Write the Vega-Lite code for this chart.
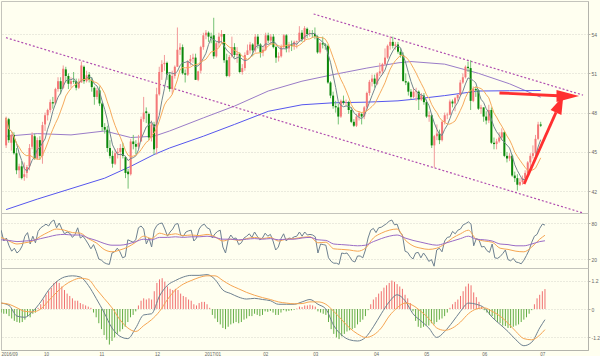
{
"$schema": "https://vega.github.io/schema/vega-lite/v6.json",
"background": "#fffff0",
"padding": 0,
"spacing": 0,
"bounds": "flush",
"config": {
  "view": {"stroke": "#c4c4bc", "strokeWidth": 1},
  "text": {"font": "Liberation Sans"},
  "axis": {"labelFont": "Liberation Sans", "labelFontSize": 5, "labelColor": "#666666", "labelOverlap": false, "domainColor": "#b4b4ac", "tickColor": "#b4b4ac", "gridColor": "#d6d6cc", "gridDash": [1, 2], "gridWidth": 1}
},
"datasets": {
"one": [{"n": 1}],
"px": [
{"k":1,"o":45.5,"h":47.7,"l":45.3,"c":47.6,"r":68,"m":-0.15},
{"k":2,"o":47.5,"h":47.6,"l":45.7,"c":45.9,"r":50,"m":-0.2},
{"k":3,"o":45.7,"h":46.4,"l":45.1,"c":46.3,"r":55,"m":-0.2},
{"k":4,"o":46.3,"h":46.5,"l":44.8,"c":44.9,"r":42,"m":-0.3},
{"k":5,"o":44.9,"h":45.3,"l":43.3,"c":43.6,"r":33,"m":-0.4},
{"k":6,"o":43.6,"h":44.1,"l":43.0,"c":43.9,"r":38,"m":-0.5},
{"k":7,"o":43.9,"h":44.3,"l":42.9,"c":43.0,"r":30,"m":-0.55},
{"k":8,"o":43.1,"h":44.2,"l":42.8,"c":43.3,"r":34,"m":-0.58},
{"k":9,"o":43.4,"h":44.0,"l":43.0,"c":43.85,"r":42,"m":-0.55},
{"k":10,"o":43.9,"h":45.6,"l":43.6,"c":45.3,"r":58,"m":-0.45},
{"k":11,"o":45.4,"h":46.5,"l":45.2,"c":46.3,"r":64,"m":-0.3},
{"k":12,"o":46.2,"h":46.4,"l":44.4,"c":44.5,"r":45,"m":-0.35},
{"k":13,"o":44.5,"h":46.1,"l":44.4,"c":45.9,"r":58,"m":-0.2},
{"k":14,"o":45.9,"h":46.2,"l":44.4,"c":44.7,"r":47,"m":-0.15},
{"k":15,"o":44.7,"h":47.3,"l":44.1,"c":47.05,"r":66,"m":0.05},
{"k":16,"o":47.1,"h":48.0,"l":46.6,"c":47.8,"r":72,"m":0.2},
{"k":17,"o":47.8,"h":48.3,"l":47.4,"c":48.2,"r":75,"m":0.4},
{"k":18,"o":48.2,"h":49.0,"l":48.0,"c":48.8,"r":78,"m":0.6},
{"k":19,"o":48.8,"h":49.2,"l":48.3,"c":48.7,"r":75,"m":0.75},
{"k":20,"o":48.7,"h":49.9,"l":48.6,"c":49.8,"r":82,"m":0.9},
{"k":21,"o":49.8,"h":50.7,"l":49.6,"c":50.4,"r":85,"m":1.1},
{"k":22,"o":50.4,"h":50.7,"l":49.4,"c":49.8,"r":72,"m":1.18},
{"k":23,"o":49.9,"h":51.6,"l":49.8,"c":51.35,"r":80,"m":1.1},
{"k":24,"o":51.3,"h":51.5,"l":50.3,"c":50.8,"r":70,"m":0.95},
{"k":25,"o":50.8,"h":51.0,"l":49.8,"c":50.2,"r":62,"m":0.8},
{"k":26,"o":50.2,"h":50.7,"l":49.9,"c":50.4,"r":65,"m":0.65},
{"k":27,"o":50.4,"h":51.1,"l":50.2,"c":50.35,"r":63,"m":0.55},
{"k":28,"o":50.4,"h":50.6,"l":49.7,"c":49.9,"r":56,"m":0.45},
{"k":29,"o":49.9,"h":50.6,"l":49.8,"c":50.3,"r":61,"m":0.35},
{"k":30,"o":50.3,"h":51.9,"l":50.3,"c":51.6,"r":72,"m":0.35},
{"k":31,"o":51.5,"h":51.6,"l":50.2,"c":50.4,"r":55,"m":0.25},
{"k":32,"o":50.4,"h":51.2,"l":50.3,"c":50.85,"r":58,"m":0.2},
{"k":33,"o":50.9,"h":51.1,"l":50.3,"c":50.5,"r":52,"m":0.15},
{"k":34,"o":50.5,"h":50.7,"l":49.6,"c":49.95,"r":45,"m":0.1},
{"k":35,"o":49.9,"h":50.0,"l":48.6,"c":49.2,"r":37,"m":0.05},
{"k":36,"o":49.2,"h":49.9,"l":49.0,"c":49.7,"r":44,"m":-0.15},
{"k":37,"o":49.7,"h":50.0,"l":48.5,"c":48.7,"r":33,"m":-0.35},
{"k":38,"o":48.7,"h":48.8,"l":46.6,"c":46.9,"r":20,"m":-0.6},
{"k":39,"o":46.9,"h":47.2,"l":46.4,"c":46.7,"r":18,"m":-0.85},
{"k":40,"o":46.7,"h":47.0,"l":45.0,"c":45.3,"r":14,"m":-1.1},
{"k":41,"o":45.3,"h":45.9,"l":44.5,"c":44.7,"r":12,"m":-1.3},
{"k":42,"o":44.7,"h":45.1,"l":43.8,"c":44.1,"r":11,"m":-1.5},
{"k":43,"o":44.1,"h":45.2,"l":44.0,"c":44.9,"r":30,"m":-1.35},
{"k":44,"o":44.9,"h":45.3,"l":44.5,"c":45.0,"r":32,"m":-1.2},
{"k":45,"o":45.0,"h":45.6,"l":43.6,"c":45.3,"r":38,"m":-1.05},
{"k":46,"o":45.3,"h":45.7,"l":44.5,"c":44.7,"r":32,"m":-0.95},
{"k":47,"o":44.6,"h":44.7,"l":43.0,"c":43.4,"r":22,"m":-0.85},
{"k":48,"o":43.5,"h":43.7,"l":42.2,"c":43.3,"r":24,"m":-0.75},
{"k":49,"o":43.3,"h":46.0,"l":43.2,"c":45.8,"r":52,"m":-0.55},
{"k":50,"o":45.8,"h":46.3,"l":45.2,"c":45.6,"r":50,"m":-0.35},
{"k":51,"o":45.6,"h":45.9,"l":44.8,"c":45.4,"r":48,"m":-0.25},
{"k":52,"o":45.4,"h":46.3,"l":45.2,"c":45.7,"r":52,"m":-0.1},
{"k":53,"o":45.8,"h":47.7,"l":45.8,"c":47.5,"r":72,"m":0.15},
{"k":54,"o":47.5,"h":49.2,"l":47.3,"c":48.0,"r":75,"m":0.35},
{"k":55,"o":48.1,"h":48.4,"l":47.2,"c":47.96,"r":70,"m":0.45},
{"k":56,"o":47.9,"h":48.0,"l":45.9,"c":46.1,"r":45,"m":0.4},
{"k":57,"o":46.1,"h":47.4,"l":45.8,"c":47.1,"r":55,"m":0.45},
{"k":58,"o":47.1,"h":47.3,"l":44.8,"c":45.2,"r":40,"m":0.4},
{"k":59,"o":45.3,"h":49.9,"l":44.8,"c":49.4,"r":68,"m":0.75},
{"k":60,"o":49.4,"h":51.5,"l":49.3,"c":51.1,"r":76,"m":1.1},
{"k":61,"o":51.1,"h":52.0,"l":50.5,"c":51.7,"r":79,"m":1.25},
{"k":62,"o":51.7,"h":52.4,"l":51.2,"c":51.8,"r":80,"m":1.3},
{"k":63,"o":51.8,"h":51.9,"l":50.5,"c":50.9,"r":70,"m":1.15},
{"k":64,"o":50.9,"h":51.1,"l":49.6,"c":49.8,"r":58,"m":0.95},
{"k":65,"o":49.8,"h":51.2,"l":49.4,"c":50.8,"r":65,"m":0.85},
{"k":66,"o":50.8,"h":51.6,"l":50.6,"c":51.5,"r":70,"m":0.8},
{"k":67,"o":51.5,"h":54.5,"l":51.5,"c":52.8,"r":78,"m":0.85},
{"k":68,"o":52.8,"h":53.3,"l":52.4,"c":52.98,"r":79,"m":0.8},
{"k":69,"o":53.0,"h":53.2,"l":50.9,"c":51.0,"r":60,"m":0.65},
{"k":70,"o":51.0,"h":51.3,"l":50.3,"c":50.9,"r":58,"m":0.55},
{"k":71,"o":50.9,"h":52.0,"l":50.8,"c":51.9,"r":65,"m":0.5},
{"k":72,"o":51.9,"h":52.4,"l":51.6,"c":52.1,"r":67,"m":0.4},
{"k":73,"o":52.1,"h":52.5,"l":51.8,"c":52.2,"r":68,"m":0.35},
{"k":74,"o":52.2,"h":52.5,"l":50.5,"c":50.5,"r":50,"m":0.2},
{"k":75,"o":50.5,"h":51.2,"l":50.4,"c":51.15,"r":55,"m":0.15},
{"k":76,"o":51.2,"h":53.1,"l":51.0,"c":53.0,"r":70,"m":0.25},
{"k":77,"o":53.0,"h":54.1,"l":52.8,"c":53.9,"r":76,"m":0.3},
{"k":78,"o":53.9,"h":54.3,"l":53.6,"c":54.1,"r":78,"m":0.3},
{"k":79,"o":54.1,"h":54.2,"l":53.4,"c":53.8,"r":72,"m":0.2},
{"k":80,"o":53.8,"h":54.1,"l":53.3,"c":53.7,"r":70,"m":0.05},
{"k":81,"o":53.9,"h":55.24,"l":52.1,"c":52.3,"r":55,"m":-0.25},
{"k":82,"o":52.3,"h":53.4,"l":52.2,"c":53.3,"r":62,"m":-0.4},
{"k":83,"o":53.3,"h":54.1,"l":53.0,"c":53.8,"r":66,"m":-0.55},
{"k":84,"o":53.8,"h":54.3,"l":53.3,"c":54.0,"r":68,"m":-0.65},
{"k":85,"o":54.0,"h":54.0,"l":51.8,"c":52.0,"r":40,"m":-0.8},
{"k":86,"o":52.0,"h":52.5,"l":50.7,"c":50.8,"r":30,"m":-0.85},
{"k":87,"o":50.8,"h":52.4,"l":50.7,"c":52.25,"r":52,"m":-0.75},
{"k":88,"o":52.3,"h":53.8,"l":52.2,"c":53.0,"r":60,"m":-0.65},
{"k":89,"o":53.0,"h":53.3,"l":52.2,"c":52.4,"r":54,"m":-0.6},
{"k":90,"o":52.4,"h":53.0,"l":51.8,"c":52.5,"r":55,"m":-0.55},
{"k":91,"o":52.5,"h":52.6,"l":51.0,"c":51.1,"r":44,"m":-0.6},
{"k":92,"o":51.1,"h":51.7,"l":50.9,"c":51.4,"r":47,"m":-0.55},
{"k":93,"o":51.4,"h":52.6,"l":51.2,"c":52.4,"r":55,"m":-0.45},
{"k":94,"o":52.4,"h":53.2,"l":52.4,"c":52.75,"r":58,"m":-0.4},
{"k":95,"o":52.75,"h":53.4,"l":52.5,"c":53.2,"r":62,"m":-0.3},
{"k":96,"o":53.2,"h":53.3,"l":52.3,"c":52.75,"r":56,"m":-0.3},
{"k":97,"o":52.75,"h":54.0,"l":52.6,"c":53.8,"r":65,"m":-0.2},
{"k":98,"o":53.8,"h":54.0,"l":52.9,"c":53.2,"r":58,"m":-0.25},
{"k":99,"o":53.2,"h":53.3,"l":52.2,"c":52.6,"r":52,"m":-0.3},
{"k":100,"o":52.6,"h":53.1,"l":52.3,"c":52.8,"r":55,"m":-0.25},
{"k":101,"o":52.8,"h":54.1,"l":52.7,"c":53.9,"r":63,"m":-0.1},
{"k":102,"o":53.9,"h":54.1,"l":53.3,"c":53.5,"r":58,"m":-0.12},
{"k":103,"o":53.5,"h":54.0,"l":53.2,"c":53.8,"r":61,"m":-0.08},
{"k":104,"o":53.8,"h":54.0,"l":52.9,"c":53.0,"r":50,"m":-0.15},
{"k":105,"o":53.0,"h":53.1,"l":51.8,"c":52.2,"r":35,"m":-0.25},
{"k":106,"o":52.2,"h":52.6,"l":51.9,"c":52.3,"r":40,"m":-0.25},
{"k":107,"o":52.3,"h":53.2,"l":52.2,"c":53.0,"r":54,"m":-0.15},
{"k":108,"o":53.0,"h":54.0,"l":52.9,"c":53.9,"r":62,"m":-0.05},
{"k":109,"o":53.9,"h":54.0,"l":52.6,"c":52.9,"r":50,"m":-0.1},
{"k":110,"o":52.9,"h":53.4,"l":52.6,"c":53.2,"r":55,"m":-0.08},
{"k":111,"o":53.2,"h":53.5,"l":52.7,"c":53.1,"r":54,"m":-0.06},
{"k":112,"o":53.1,"h":53.5,"l":52.8,"c":53.4,"r":57,"m":-0.03},
{"k":113,"o":53.4,"h":53.5,"l":52.9,"c":53.45,"r":58,"m":0.02},
{"k":114,"o":53.5,"h":54.6,"l":53.4,"c":54.1,"r":65,"m":0.1},
{"k":115,"o":54.1,"h":54.3,"l":53.4,"c":53.6,"r":58,"m":0.08},
{"k":116,"o":53.6,"h":54.6,"l":53.4,"c":54.45,"r":65,"m":0.15},
{"k":117,"o":54.4,"h":54.5,"l":53.7,"c":54.0,"r":60,"m":0.15},
{"k":118,"o":54.0,"h":54.3,"l":53.8,"c":54.05,"r":61,"m":0.18},
{"k":119,"o":54.05,"h":54.3,"l":53.7,"c":54.0,"r":60,"m":0.15},
{"k":120,"o":54.0,"h":54.5,"l":53.6,"c":53.8,"r":57,"m":0.1},
{"k":121,"o":53.8,"h":53.9,"l":52.5,"c":52.6,"r":30,"m":-0.1},
{"k":122,"o":52.6,"h":53.4,"l":52.5,"c":53.3,"r":45,"m":-0.15},
{"k":123,"o":53.3,"h":53.8,"l":52.9,"c":53.2,"r":44,"m":-0.2},
{"k":124,"o":53.2,"h":53.3,"l":52.8,"c":53.1,"r":43,"m":-0.25},
{"k":125,"o":53.1,"h":53.2,"l":50.2,"c":50.3,"r":22,"m":-0.55},
{"k":126,"o":50.3,"h":50.4,"l":49.1,"c":49.3,"r":16,"m":-0.85},
{"k":127,"o":49.3,"h":49.6,"l":48.3,"c":48.5,"r":13,"m":-1.05},
{"k":128,"o":48.5,"h":48.9,"l":48.0,"c":48.4,"r":13,"m":-1.2},
{"k":129,"o":48.4,"h":48.7,"l":47.1,"c":47.7,"r":11,"m":-1.27},
{"k":130,"o":47.7,"h":49.0,"l":47.6,"c":48.9,"r":30,"m":-1.15},
{"k":131,"o":48.9,"h":49.3,"l":48.6,"c":48.75,"r":29,"m":-1.05},
{"k":132,"o":48.75,"h":49.0,"l":48.5,"c":48.8,"r":30,"m":-0.95},
{"k":133,"o":48.8,"h":48.9,"l":47.9,"c":48.2,"r":24,"m":-0.9},
{"k":134,"o":48.2,"h":48.4,"l":47.2,"c":47.3,"r":17,"m":-0.85},
{"k":135,"o":47.3,"h":47.5,"l":46.9,"c":47.0,"r":15,"m":-0.8},
{"k":136,"o":47.0,"h":47.9,"l":46.9,"c":47.7,"r":25,"m":-0.65},
{"k":137,"o":47.7,"h":48.1,"l":47.4,"c":47.97,"r":25,"m":-0.55},
{"k":138,"o":47.9,"h":48.0,"l":47.1,"c":47.7,"r":22,"m":-0.45},
{"k":139,"o":47.7,"h":48.5,"l":47.5,"c":48.4,"r":35,"m":-0.3},
{"k":140,"o":48.4,"h":49.6,"l":48.2,"c":49.5,"r":55,"m":-0.05},
{"k":141,"o":49.5,"h":50.5,"l":49.3,"c":50.35,"r":68,"m":0.2},
{"k":142,"o":50.35,"h":50.9,"l":50.0,"c":50.6,"r":71,"m":0.4},
{"k":143,"o":50.6,"h":50.9,"l":49.9,"c":50.2,"r":64,"m":0.5},
{"k":144,"o":50.2,"h":51.1,"l":50.1,"c":51.0,"r":72,"m":0.65},
{"k":145,"o":51.0,"h":51.8,"l":50.8,"c":51.15,"r":73,"m":0.75},
{"k":146,"o":51.15,"h":51.8,"l":50.9,"c":51.7,"r":76,"m":0.9},
{"k":147,"o":51.7,"h":52.9,"l":51.6,"c":52.2,"r":79,"m":1.0},
{"k":148,"o":52.2,"h":53.2,"l":52.1,"c":53.1,"r":83,"m":1.1},
{"k":149,"o":53.1,"h":53.8,"l":52.8,"c":53.4,"r":85,"m":1.2},
{"k":150,"o":53.4,"h":53.8,"l":52.9,"c":53.1,"r":77,"m":1.15},
{"k":151,"o":53.1,"h":53.4,"l":52.8,"c":53.2,"r":78,"m":1.05},
{"k":152,"o":53.2,"h":53.4,"l":52.5,"c":52.65,"r":65,"m":0.95},
{"k":153,"o":52.65,"h":52.9,"l":52.2,"c":52.4,"r":60,"m":0.85},
{"k":154,"o":52.4,"h":52.6,"l":50.4,"c":50.4,"r":33,"m":0.6},
{"k":155,"o":50.4,"h":51.0,"l":50.1,"c":50.3,"r":31,"m":0.45},
{"k":156,"o":50.3,"h":50.4,"l":49.3,"c":49.6,"r":24,"m":0.25},
{"k":157,"o":49.6,"h":49.8,"l":49.0,"c":49.2,"r":20,"m":-0.1},
{"k":158,"o":49.2,"h":49.9,"l":49.1,"c":49.6,"r":30,"m":-0.5},
{"k":159,"o":49.6,"h":49.9,"l":48.9,"c":49.65,"r":31,"m":-0.75},
{"k":160,"o":49.6,"h":49.7,"l":48.2,"c":49.0,"r":22,"m":-0.8},
{"k":161,"o":49.0,"h":49.5,"l":48.9,"c":49.3,"r":30,"m":-0.75},
{"k":162,"o":49.3,"h":49.5,"l":48.6,"c":48.8,"r":24,"m":-0.7},
{"k":163,"o":48.8,"h":49.0,"l":47.6,"c":47.7,"r":16,"m":-0.7},
{"k":164,"o":47.7,"h":48.1,"l":47.3,"c":47.8,"r":19,"m":-0.6},
{"k":165,"o":47.8,"h":47.9,"l":45.3,"c":45.5,"r":8,"m":-0.65},
{"k":166,"o":45.5,"h":46.3,"l":43.8,"c":46.2,"r":35,"m":-0.55},
{"k":167,"o":46.2,"h":47.1,"l":45.9,"c":46.4,"r":38,"m":-0.45},
{"k":168,"o":46.4,"h":46.7,"l":45.6,"c":45.9,"r":32,"m":-0.4},
{"k":169,"o":45.9,"h":47.4,"l":45.8,"c":47.3,"r":50,"m":-0.3},
{"k":170,"o":47.3,"h":48.0,"l":47.1,"c":47.8,"r":56,"m":-0.15},
{"k":171,"o":47.8,"h":48.0,"l":47.5,"c":47.85,"r":57,"m":0.05},
{"k":172,"o":47.85,"h":49.0,"l":47.8,"c":48.85,"r":66,"m":0.2},
{"k":173,"o":48.85,"h":49.0,"l":48.4,"c":48.7,"r":62,"m":0.3},
{"k":174,"o":48.7,"h":49.2,"l":48.1,"c":49.1,"r":68,"m":0.4},
{"k":175,"o":49.1,"h":49.4,"l":48.9,"c":49.35,"r":70,"m":0.55},
{"k":176,"o":49.35,"h":50.5,"l":49.3,"c":50.3,"r":77,"m":0.75},
{"k":177,"o":50.3,"h":51.0,"l":50.2,"c":50.7,"r":79,"m":0.95},
{"k":178,"o":50.7,"h":51.6,"l":50.6,"c":51.5,"r":82,"m":1.07},
{"k":179,"o":51.5,"h":51.9,"l":51.1,"c":51.4,"r":78,"m":1.0},
{"k":180,"o":51.4,"h":52.0,"l":48.2,"c":48.9,"r":42,"m":0.7},
{"k":181,"o":48.9,"h":50.0,"l":48.8,"c":49.8,"r":54,"m":0.5},
{"k":182,"o":49.8,"h":50.0,"l":49.2,"c":49.7,"r":52,"m":0.3},
{"k":183,"o":49.7,"h":49.8,"l":48.2,"c":48.3,"r":40,"m":0.1},
{"k":184,"o":48.3,"h":48.6,"l":47.9,"c":48.4,"r":41,"m":-0.05},
{"k":185,"o":48.4,"h":48.4,"l":47.3,"c":47.7,"r":34,"m":-0.15},
{"k":186,"o":47.7,"h":48.1,"l":47.1,"c":47.4,"r":31,"m":-0.25},
{"k":187,"o":47.4,"h":48.6,"l":47.2,"c":48.2,"r":45,"m":-0.3},
{"k":188,"o":48.2,"h":48.4,"l":45.6,"c":45.7,"r":22,"m":-0.45},
{"k":189,"o":45.7,"h":46.1,"l":45.2,"c":45.6,"r":21,"m":-0.55},
{"k":190,"o":45.6,"h":46.0,"l":45.2,"c":45.8,"r":24,"m":-0.6},
{"k":191,"o":45.8,"h":46.5,"l":45.7,"c":46.1,"r":29,"m":-0.7},
{"k":192,"o":46.1,"h":46.8,"l":45.9,"c":46.5,"r":35,"m":-0.72},
{"k":193,"o":46.5,"h":46.6,"l":44.6,"c":44.7,"r":19,"m":-0.8},
{"k":194,"o":44.7,"h":45.0,"l":44.2,"c":44.5,"r":17,"m":-0.8},
{"k":195,"o":44.5,"h":44.9,"l":44.3,"c":44.7,"r":21,"m":-0.75},
{"k":196,"o":44.7,"h":44.8,"l":43.1,"c":43.2,"r":15,"m":-0.7},
{"k":197,"o":43.2,"h":43.5,"l":42.7,"c":43.0,"r":14,"m":-0.65},
{"k":198,"o":43.0,"h":43.3,"l":42.05,"c":42.5,"r":12,"m":-0.55},
{"k":199,"o":42.5,"h":43.0,"l":42.4,"c":42.7,"r":18,"m":-0.45},
{"k":200,"o":42.7,"h":43.2,"l":42.5,"c":43.0,"r":26,"m":-0.35},
{"k":201,"o":43.0,"h":43.6,"l":42.9,"c":43.4,"r":35,"m":-0.2},
{"k":202,"o":43.4,"h":44.3,"l":43.3,"c":44.2,"r":48,"m":-0.05},
{"k":203,"o":44.2,"h":44.9,"l":43.8,"c":44.7,"r":58,"m":0.2},
{"k":204,"o":44.7,"h":45.5,"l":44.5,"c":44.9,"r":61,"m":0.45},
{"k":205,"o":44.9,"h":46.3,"l":44.8,"c":46.0,"r":71,"m":0.6},
{"k":206,"o":46.0,"h":47.3,"l":45.9,"c":47.1,"r":78,"m":0.75},
{"k":207,"o":47.1,"h":47.3,"l":46.9,"c":47.0,"r":76.6,"m":0.84}
],
"sm": [
{"k":1,"r2":56,"r3":52,"d":0.25,"e":0.25},
{"k":4,"r2":50,"r3":51,"d":0.15,"e":0.2},
{"k":7,"r2":45,"r3":49,"d":-0.3,"e":0.05},
{"k":10,"r2":47,"r3":50,"d":-0.35,"e":-0.1},
{"k":13,"r2":50,"r3":51,"d":-0.1,"e":-0.12},
{"k":16,"r2":58,"r3":54,"d":0.3,"e":0.0},
{"k":19,"r2":65,"r3":57,"d":0.8,"e":0.35},
{"k":22,"r2":70,"r3":60,"d":1.15,"e":0.7},
{"k":25,"r2":68,"r3":61,"d":1.35,"e":1.0},
{"k":28,"r2":64,"r3":60,"d":1.4,"e":1.2},
{"k":31,"r2":63,"r3":60,"d":1.35,"e":1.3},
{"k":34,"r2":54,"r3":55,"d":1.0,"e":1.25},
{"k":37,"r2":47,"r3":51,"d":0.45,"e":0.85},
{"k":40,"r2":36,"r3":46,"d":-0.15,"e":0.45},
{"k":43,"r2":32,"r3":43,"d":-0.8,"e":0.05},
{"k":46,"r2":35,"r3":43,"d":-1.15,"e":-0.45},
{"k":49,"r2":40,"r3":45,"d":-1.25,"e":-0.8},
{"k":52,"r2":48,"r3":49,"d":-0.8,"e":-0.95},
{"k":55,"r2":58,"r3":53,"d":-0.25,"e":-0.7},
{"k":58,"r2":54,"r3":52,"d":-0.2,"e":-0.45},
{"k":61,"r2":63,"r3":56,"d":0.55,"e":-0.1},
{"k":64,"r2":60,"r3":56,"d":1.0,"e":0.4},
{"k":67,"r2":62,"r3":57,"d":1.2,"e":0.8},
{"k":70,"r2":59,"r3":56,"d":1.35,"e":1.05},
{"k":73,"r2":60,"r3":57,"d":1.42,"e":1.2},
{"k":76,"r2":59,"r3":57,"d":1.42,"e":1.33},
{"k":79,"r2":61,"r3":58,"d":1.45,"e":1.4},
{"k":82,"r2":57,"r3":56,"d":1.25,"e":1.4},
{"k":85,"r2":50,"r3":53,"d":0.8,"e":1.2},
{"k":88,"r2":53,"r3":53,"d":0.65,"e":1.0},
{"k":91,"r2":51,"r3":52,"d":0.5,"e":0.85},
{"k":94,"r2":54,"r3":53,"d":0.42,"e":0.7},
{"k":97,"r2":56,"r3":54,"d":0.45,"e":0.58},
{"k":100,"r2":54,"r3":53,"d":0.4,"e":0.48},
{"k":103,"r2":56,"r3":54,"d":0.35,"e":0.4},
{"k":106,"r2":50,"r3":52,"d":0.2,"e":0.3},
{"k":109,"r2":53,"r3":53,"d":0.2,"e":0.25},
{"k":112,"r2":54,"r3":53,"d":0.2,"e":0.22},
{"k":115,"r2":56,"r3":55,"d":0.3,"e":0.23},
{"k":118,"r2":57,"r3":56,"d":0.4,"e":0.3},
{"k":121,"r2":47,"r3":52,"d":0.2,"e":0.3},
{"k":124,"r2":48,"r3":51,"d":0.0,"e":0.2},
{"k":127,"r2":37,"r3":45,"d":-0.7,"e":-0.1},
{"k":130,"r2":36,"r3":44,"d":-1.1,"e":-0.45},
{"k":133,"r2":35,"r3":43,"d":-1.3,"e":-0.8},
{"k":136,"r2":33,"r3":42,"d":-1.35,"e":-1.05},
{"k":139,"r2":38,"r3":43,"d":-1.2,"e":-1.2},
{"k":142,"r2":55,"r3":49,"d":-0.75,"e":-1.1},
{"k":145,"r2":63,"r3":54,"d":-0.2,"e":-0.8},
{"k":148,"r2":68,"r3":58,"d":0.3,"e":-0.3},
{"k":151,"r2":70,"r3":60,"d":0.6,"e":0.05},
{"k":154,"r2":52,"r3":55,"d":0.35,"e":0.25},
{"k":157,"r2":42,"r3":51,"d":-0.2,"e":0.15},
{"k":160,"r2":38,"r3":48,"d":-0.5,"e":-0.1},
{"k":163,"r2":36,"r3":45,"d":-0.8,"e":-0.4},
{"k":166,"r2":38,"r3":43,"d":-1.2,"e":-0.8},
{"k":169,"r2":45,"r3":46,"d":-0.95,"e":-0.9},
{"k":172,"r2":55,"r3":50,"d":-0.55,"e":-0.8},
{"k":175,"r2":62,"r3":54,"d":-0.1,"e":-0.55},
{"k":178,"r2":68,"r3":58,"d":0.25,"e":-0.2},
{"k":181,"r2":53,"r3":53,"d":0.2,"e":0.0},
{"k":184,"r2":50,"r3":52,"d":0.05,"e":0.05},
{"k":187,"r2":48,"r3":50,"d":-0.35,"e":-0.1},
{"k":190,"r2":38,"r3":45,"d":-0.65,"e":-0.3},
{"k":193,"r2":36,"r3":44,"d":-0.95,"e":-0.6},
{"k":196,"r2":33,"r3":42,"d":-1.3,"e":-0.95},
{"k":199,"r2":32,"r3":42,"d":-1.55,"e":-1.25},
{"k":202,"r2":40,"r3":45,"d":-1.4,"e":-1.3},
{"k":205,"r2":53,"r3":49,"d":-0.8,"e":-1.1},
{"k":207,"r2":59.6,"r3":50.4,"d":-0.45,"e":-0.87}
],
"ma": [
{"k":1,"a":46.2,"b":40.6},
{"k":13,"a":46.4,"b":41.4},
{"k":26,"a":46.3,"b":42.2},
{"k":39,"a":46.6,"b":43.0},
{"k":49,"a":46.1,"b":43.9},
{"k":58,"a":46.2,"b":44.8},
{"k":64,"a":46.6,"b":45.3},
{"k":77,"a":47.6,"b":46.2},
{"k":89,"a":48.5,"b":47.1},
{"k":102,"a":49.65,"b":48.1},
{"k":115,"a":50.4,"b":48.6},
{"k":127,"a":50.9,"b":48.75},
{"k":140,"a":51.4,"b":48.8},
{"k":152,"a":51.8,"b":48.9},
{"k":157,"a":51.9,"b":49.0},
{"k":170,"a":51.7,"b":49.3},
{"k":183,"a":51.0,"b":49.65},
{"k":195,"a":50.2,"b":49.67},
{"k":207,"a":49.18,"b":49.69}
],
"tl": [
{"g":"a","k":0.95,"p":53.72},
{"g":"a","k":223.3,"p":40.34},
{"g":"b","k":119.5,"p":55.53},
{"g":"b","k":223.3,"p":49.34}
],
"arr": [
{"g":"h","k":191.1,"p":49.5},
{"g":"h","k":213.8,"p":49.29},
{"g":"d","k":200.6,"p":42.55},
{"g":"d","k":212.9,"p":48.02}
],
"ah": [
{"g":"h","k":213.1,"p":48.82,"p2":49.73},
{"g":"h","k":221.8,"p":49.27,"p2":49.27},
{"g":"d","k":210.8,"p":48.21,"p2":48.21},
{"g":"d","k":214.97,"p":47.82,"p2":49.11},
{"g":"d","k":215.72,"p":49.27,"p2":49.27}
]
},
"vconcat": [
{
"width": 587, "height": 212,
"encoding": {"x": {"field": "k", "type": "quantitative", "scale": {"domain": [0.95, 223.3], "nice": false, "zero": false}, "axis": null}},
"layer": [
{"data": {"name": "ma"}, "mark": {"type": "line", "color": "#9a7cc8", "strokeWidth": 1, "clip": true},
 "encoding": {"y": {"field": "a", "type": "quantitative", "title": null, "scale": {"domain": [40.34, 56.52], "nice": false, "zero": false},
   "axis": {"orient": "right", "values": [42, 45, 48, 51, 54], "grid": true, "tickSize": 2, "labelPadding": 1, "labelOverlap": false, "minExtent": 13, "maxExtent": 13}}}},
{"data": {"name": "ma"}, "mark": {"type": "line", "color": "#5656ee", "strokeWidth": 1, "clip": true},
 "encoding": {"y": {"field": "b", "type": "quantitative", "title": null}}},
{"data": {"name": "tl"}, "mark": {"type": "line", "color": "#b04cb0", "strokeWidth": 1.2, "strokeDash": [2, 2], "clip": true},
 "encoding": {"y": {"field": "p", "type": "quantitative", "title": null}, "detail": {"field": "g"}}},
{"data": {"name": "px"}, "mark": {"type": "rule", "strokeWidth": 1, "clip": true},
 "encoding": {"y": {"field": "l", "type": "quantitative", "title": null}, "y2": {"field": "h"},
   "color": {"condition": {"test": "datum.c >= datum.o", "value": "#f29a9a"}, "value": "#74c274"}}},
{"data": {"name": "px"}, "mark": {"type": "bar", "size": 2, "clip": true},
 "encoding": {"y": {"field": "o", "type": "quantitative", "title": null}, "y2": {"field": "c"},
   "color": {"condition": {"test": "datum.c >= datum.o", "value": "#f47878"}, "value": "#0b870b"}}},
{"data": {"name": "px"}, "transform": [{"window": [{"op": "mean", "field": "c", "as": "v5"}], "frame": [-4, 0], "sort": [{"field": "k"}]}],
 "mark": {"type": "line", "color": "#74868f", "strokeWidth": 1, "clip": true},
 "encoding": {"y": {"field": "v5", "type": "quantitative", "title": null}}},
{"data": {"name": "px"}, "transform": [{"window": [{"op": "mean", "field": "c", "as": "v10"}], "frame": [-9, 0], "sort": [{"field": "k"}]}],
 "mark": {"type": "line", "color": "#f6aa5c", "strokeWidth": 1, "clip": true},
 "encoding": {"y": {"field": "v10", "type": "quantitative", "title": null}}},
{"data": {"name": "arr"}, "mark": {"type": "line", "color": "#ff3030", "strokeWidth": 2.8, "clip": true},
 "encoding": {"y": {"field": "p", "type": "quantitative", "title": null}, "detail": {"field": "g"}}},
{"data": {"name": "ah"}, "mark": {"type": "area", "color": "#ff3030", "opacity": 1, "clip": true, "orient": "vertical"},
 "encoding": {"y": {"field": "p", "type": "quantitative", "title": null}, "y2": {"field": "p2"}, "detail": {"field": "g"}}},
{"data": {"name": "one"}, "mark": {"type": "text", "text": "美原油连续(CONC)(日线)", "font": "Noto Sans CJK SC", "fontSize": 5, "align": "left", "baseline": "middle", "color": "#5a5a70"},
 "encoding": {"x": {"datum": 1.0}, "y": {"datum": 56.21}}},
{"data": {"name": "one"}, "mark": {"type": "text", "text": "×", "fontSize": 5, "align": "left", "baseline": "middle", "color": "#555555"},
 "encoding": {"x": {"datum": 1.0}, "y": {"datum": 55.72}}},
{"data": {"name": "one"}, "mark": {"type": "text", "text": "MA5:46.81", "fontSize": 5, "align": "left", "baseline": "middle", "color": "#3e4c5a"},
 "encoding": {"x": {"datum": 2.84}, "y": {"datum": 55.72}}},
{"data": {"name": "one"}, "mark": {"type": "text", "text": "MA10:44.57", "fontSize": 5, "align": "left", "baseline": "middle", "color": "#f08c28"},
 "encoding": {"x": {"datum": 11.9}, "y": {"datum": 55.72}}},
{"data": {"name": "one"}, "mark": {"type": "text", "text": "MA100:49.18", "fontSize": 5, "align": "left", "baseline": "middle", "color": "#8050c8"},
 "encoding": {"x": {"datum": 22.2}, "y": {"datum": 55.72}}},
{"data": {"name": "one"}, "mark": {"type": "text", "text": "MA200:49.69", "fontSize": 5, "align": "left", "baseline": "middle", "color": "#3636dc"},
 "encoding": {"x": {"datum": 32.8}, "y": {"datum": 55.72}}},
{"data": {"name": "one"}, "mark": {"type": "text", "text": "美原油日线走势图", "font": "Noto Sans CJK SC", "fontSize": 10.5, "align": "center", "baseline": "middle", "color": "#ff4d4d"},
 "encoding": {"x": {"datum": 33.7}, "y": {"datum": 54.76}}},
{"data": {"name": "one"}, "mark": {"type": "text", "text": "阻力", "font": "Noto Sans CJK SC", "fontSize": 11.5, "align": "center", "baseline": "middle", "color": "#ff5555"},
 "encoding": {"x": {"datum": 217.4}, "y": {"datum": 50.49}}},
{"data": {"name": "one"}, "mark": {"type": "text", "text": "55.24", "fontSize": 5.5, "align": "right", "baseline": "middle", "color": "#444444"},
 "encoding": {"x": {"datum": 79.7}, "y": {"datum": 55.3}}},
{"data": {"name": "one"}, "mark": {"type": "text", "text": "42.05", "fontSize": 5.5, "align": "right", "baseline": "middle", "color": "#444444"},
 "encoding": {"x": {"datum": 196}, "y": {"datum": 41.95}}},
{"data": {"name": "one"}, "mark": {"type": "text", "text": "新品基础", "font": "Noto Sans CJK SC", "fontSize": 4.5, "align": "center", "baseline": "middle", "color": "#4f7496"},
 "encoding": {"x": {"datum": 211.7}, "y": {"datum": 56.21}}},
{"data": {"name": "one"}, "mark": {"type": "text", "text": "切换", "font": "Noto Sans CJK SC", "fontSize": 4.5, "align": "center", "baseline": "middle", "color": "#4f7496"},
 "encoding": {"x": {"datum": 219.5}, "y": {"datum": 56.21}}}
]
},
{
"width": 587, "height": 55,
"encoding": {"x": {"field": "k", "type": "quantitative", "scale": {"domain": [0.95, 223.3], "nice": false, "zero": false}, "axis": null}},
"layer": [
{"data": {"name": "px"}, "mark": {"type": "line", "color": "#6e8190", "strokeWidth": 1, "clip": true},
 "encoding": {"y": {"field": "r", "type": "quantitative", "title": null, "scale": {"domain": [5, 96.67], "nice": false, "zero": false},
   "axis": {"orient": "right", "values": [20, 50, 80], "grid": true, "tickSize": 2, "labelPadding": 1, "labelOverlap": false, "labelSeparation": 0, "labelBound": false, "minExtent": 13, "maxExtent": 13}}}},
{"data": {"name": "sm"}, "mark": {"type": "line", "color": "#f6a552", "strokeWidth": 1, "interpolate": "monotone", "clip": true},
 "encoding": {"y": {"field": "r2", "type": "quantitative", "title": null}}},
{"data": {"name": "sm"}, "mark": {"type": "line", "color": "#9a6cc6", "strokeWidth": 1, "interpolate": "monotone", "clip": true},
 "encoding": {"y": {"field": "r3", "type": "quantitative", "title": null}}},
{"data": {"name": "one"}, "mark": {"type": "text", "text": "RSI(6,12,24)", "fontSize": 5, "align": "left", "baseline": "middle", "color": "#666666"},
 "encoding": {"x": {"datum": 1.0}, "y": {"datum": 91.7}}},
{"data": {"name": "one"}, "mark": {"type": "text", "text": "RSI1:76.61", "fontSize": 5, "align": "left", "baseline": "middle", "color": "#4e6070"},
 "encoding": {"x": {"datum": 11.2}, "y": {"datum": 91.7}}},
{"data": {"name": "one"}, "mark": {"type": "text", "text": "RSI2:59.64", "fontSize": 5, "align": "left", "baseline": "middle", "color": "#f09a3c"},
 "encoding": {"x": {"datum": 21.0}, "y": {"datum": 91.7}}},
{"data": {"name": "one"}, "mark": {"type": "text", "text": "RSI3:50.43", "fontSize": 5, "align": "left", "baseline": "middle", "color": "#8c50c0"},
 "encoding": {"x": {"datum": 29.7}, "y": {"datum": 91.7}}}
]
},
{
"width": 587, "height": 82,
"encoding": {"x": {"field": "k", "type": "quantitative", "scale": {"domain": [0.95, 223.3], "nice": false, "zero": false},
  "axis": {"values": [0.95, 18, 39, 60, 81, 101, 120, 143, 162, 184, 206],
    "labelExpr": "datum.value < 5 ? '2016/09' : datum.value == 18 ? '10' : datum.value == 39 ? '11' : datum.value == 60 ? '12' : datum.value == 81 ? '2017/01' : datum.value == 101 ? '02' : datum.value == 120 ? '03' : datum.value == 143 ? '04' : datum.value == 162 ? '05' : datum.value == 184 ? '06' : '07'",
    "labelFlush": true, "labelOverlap": false, "grid": false, "ticks": false, "labelFontSize": 4.5, "labelPadding": 1.5, "minExtent": 7, "maxExtent": 7, "title": null}}},
"layer": [
{"data": {"name": "px"}, "mark": {"type": "rule", "strokeWidth": 1, "clip": true},
 "encoding": {"y": {"field": "m", "type": "quantitative", "title": null, "scale": {"domain": [-1.73, 1.73], "nice": false, "zero": false},
   "axis": {"orient": "right", "values": [-1.2, 0, 1.2], "labelExpr": "datum.value == 0 ? '0' : (datum.value > 0 ? '1.2' : '-1.2')", "grid": true, "tickSize": 2, "labelPadding": 1, "labelOverlap": false, "minExtent": 13, "maxExtent": 13}},
   "y2": {"datum": 0},
   "color": {"condition": {"test": "datum.m >= 0", "value": "#f07070"}, "value": "#62ad44"}}},
{"data": {"name": "sm"}, "mark": {"type": "line", "color": "#6e8190", "strokeWidth": 1, "interpolate": "monotone", "clip": true},
 "encoding": {"y": {"field": "d", "type": "quantitative", "title": null}}},
{"data": {"name": "sm"}, "mark": {"type": "line", "color": "#f6a552", "strokeWidth": 1, "interpolate": "monotone", "clip": true},
 "encoding": {"y": {"field": "e", "type": "quantitative", "title": null}}},
{"data": {"name": "one"}, "mark": {"type": "text", "text": "MACD(12,26,9)", "fontSize": 5, "align": "left", "baseline": "middle", "color": "#666666"},
 "encoding": {"x": {"datum": 1.0}, "y": {"datum": 1.6}}},
{"data": {"name": "one"}, "mark": {"type": "text", "text": "DIFF:-0.45", "fontSize": 5, "align": "left", "baseline": "middle", "color": "#4e6070"},
 "encoding": {"x": {"datum": 11.9}, "y": {"datum": 1.6}}},
{"data": {"name": "one"}, "mark": {"type": "text", "text": "DEA:-0.87", "fontSize": 5, "align": "left", "baseline": "middle", "color": "#f09a3c"},
 "encoding": {"x": {"datum": 21.0}, "y": {"datum": 1.6}}},
{"data": {"name": "one"}, "mark": {"type": "text", "text": "MACD:0.83", "fontSize": 5, "align": "left", "baseline": "middle", "color": "#777777"},
 "encoding": {"x": {"datum": 30.1}, "y": {"datum": 1.6}}}
]
}
]
}
